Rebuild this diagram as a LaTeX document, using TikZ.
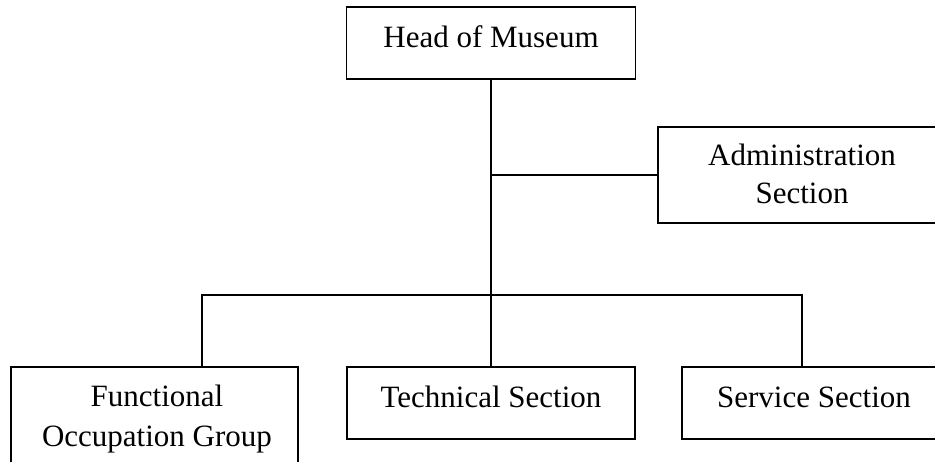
\documentclass[tikz,border=0pt]{standalone}
\usepackage{fontspec}
\setmainfont{Liberation Serif}
\begin{document}
\begin{tikzpicture}[x=1pt,y=-1pt,
  box/.style={draw,line width=1.8pt,inner sep=0pt},
  lbl/.style={font=\fontsize{31}{37}\selectfont,anchor=base,inner sep=0pt},
  conn/.style={line width=1.8pt}]
\useasboundingbox (0,0) rectangle (935,461);
\clip (0,0) rectangle (935,461);
% boxes
\node[box,minimum width=289pt,minimum height=72pt] (head) at (491,43) {};
\node[box,minimum width=288pt,minimum height=96pt] (admin) at (802,175) {};
\node[box,minimum width=287pt,minimum height=108pt] (func) at (154.5,421) {};
\node[box,minimum width=288pt,minimum height=72pt] (tech) at (491,403) {};
\node[box,minimum width=264pt,minimum height=72pt] (serv) at (814,403) {};
% labels
\node[lbl] (headt) at (491,47) {Head of Museum};
\node[lbl] (admint1) at (802,165) {Administration};
\node[lbl] (admint2) at (802,203) {Section};
\node[lbl] (funct1) at (157,406) {Functional};
\node[lbl] (funct2) at (157,446) {Occupation Group};
\node[lbl] (techt) at (491,407) {Technical Section};
\node[lbl] (servt) at (814,407) {Service Section};
% connectors
\coordinate (busL) at (202,295);
\coordinate (busR) at (802,295);
\draw[conn] (head.south) -- (tech.north);
\draw[conn] (head.south |- admin.west) -- (admin.west);
\draw[conn] (busL |- func.north) -- (busL) -- (busR) -- (busR |- serv.north);
\end{tikzpicture}
\end{document}
